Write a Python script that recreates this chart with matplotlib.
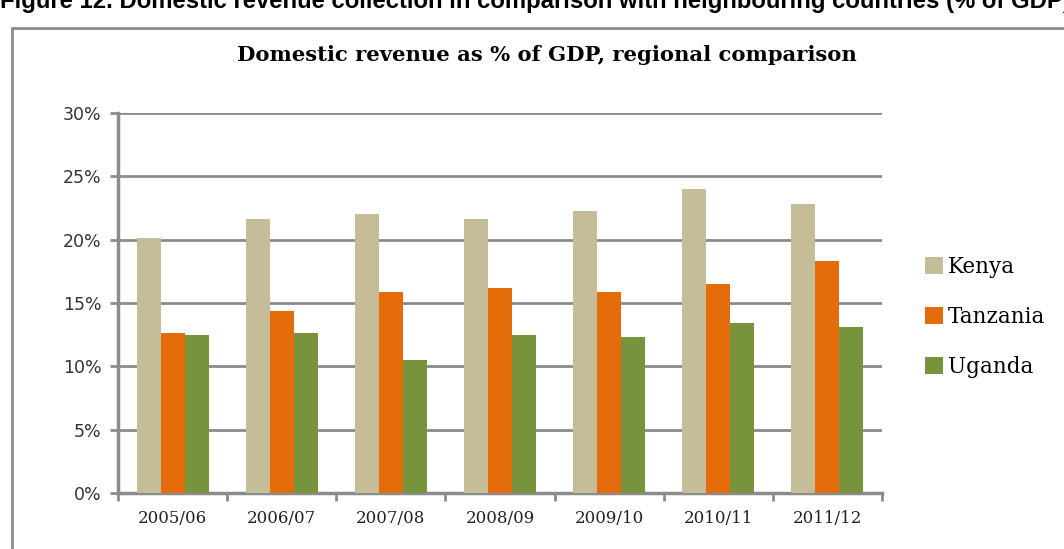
import numpy as np
import matplotlib.pyplot as plt
from matplotlib.patches import Rectangle

years = ["2005/06", "2006/07", "2007/08", "2008/09", "2009/10", "2010/11", "2011/12"]
kenya = [20.1, 21.6, 22.0, 21.6, 22.3, 24.0, 22.8]
tanzania = [12.6, 14.4, 15.9, 16.2, 15.9, 16.5, 18.3]
uganda = [12.5, 12.6, 10.5, 12.5, 12.3, 13.4, 13.1]

series = [("Kenya", kenya, "#C4BD97"),
          ("Tanzania", tanzania, "#E46C0A"),
          ("Uganda", uganda, "#77933C")]

fig = plt.figure(figsize=(10.64, 5.49), dpi=100)

# caption above the chart box (cut off at top in the source)
fig.text(0.0, 1 - 8 / 549, "Figure 12. Domestic revenue collection in comparison with neighbouring countries (% of GDP)",
         fontsize=17.2, fontweight="bold", family=["Liberation Sans Narrow", "Liberation Sans"],
         va="baseline", ha="left")

# chart frame
fig.patches.append(Rectangle((12 / 1064, -0.05), 1.1, 1 - 28 / 549 + 0.05, transform=fig.transFigure,
                             fill=False, edgecolor="#8c8c8c", linewidth=2))

ax = fig.add_axes([118 / 1064, 1 - 493 / 549, 764 / 1064, 380 / 549])

x = np.arange(len(years))
w = 0.22
for i, (name, vals, col) in enumerate(series):
    ax.bar(x + (i - 1) * w, vals, width=w, color=col, label=name, zorder=3)

ax.set_xlim(-0.5, len(years) - 0.5)
ax.set_ylim(0, 30)
ax.set_yticks(range(0, 31, 5))
ax.set_yticklabels([f"{v}%" for v in range(0, 31, 5)], family="DejaVu Sans", fontsize=12.5, color="#333333")
ax.set_xticks(x)
ax.set_xticklabels(years, family="DejaVu Serif", fontsize=12, color="#222222")
ax.set_xticks(np.arange(-0.5, len(years), 1), minor=True)
ax.tick_params(axis="x", which="major", length=0, pad=12)
ax.tick_params(axis="x", which="minor", length=6, width=2, color="#8c8c8c", direction="out")
ax.tick_params(axis="y", length=6, width=2, color="#8c8c8c", direction="out", pad=6)

ax.grid(axis="y", color="#8c8c8c", linewidth=2, zorder=0)
for s in ["top", "right"]:
    ax.spines[s].set_visible(False)
for s in ["left", "bottom"]:
    ax.spines[s].set_color("#8c8c8c")
    ax.spines[s].set_linewidth(2.5)

fig.text(547 / 1064, 1 - 55 / 549, "Domestic revenue as % of GDP, regional comparison",
         family="DejaVu Serif", fontweight="bold", fontsize=15.2, ha="center", va="center")

ax.legend(loc="center left", bbox_to_anchor=(906 / 1064, 1 - 317 / 549), bbox_transform=fig.transFigure,
          frameon=False, prop={"family": "DejaVu Serif", "size": 15.5}, handlelength=0.8, handleheight=0.8,
          handletextpad=0.25, labelspacing=1.3)

fig.savefig("out.png", dpi=100)
